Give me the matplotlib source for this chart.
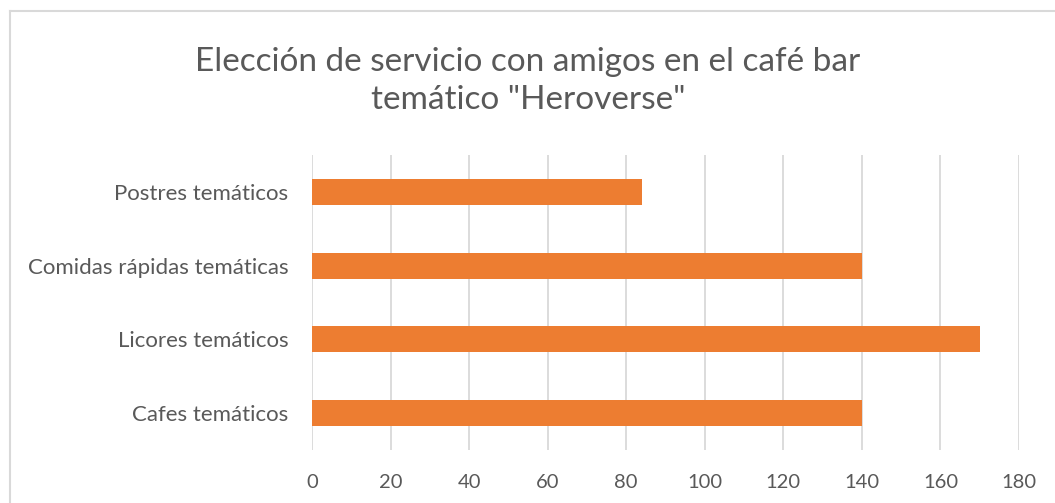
import matplotlib
matplotlib.use("Agg")
import matplotlib.pyplot as plt
from matplotlib.lines import Line2D

categories = ["Cafes temáticos", "Licores temáticos", "Comidas rápidas temáticas", "Postres temáticos"]
values = [140, 170, 140, 84]
xticks = [0, 20, 40, 60, 80, 100, 120, 140, 160, 180]
title = 'Elección de servicio con amigos en el café bar\ntemático "Heroverse"'

plt.rcParams['font.family'] = ['Lato', 'DejaVu Sans']
text_color = '#595959'
grid_color = '#D9D9D9'
bar_color = '#ED7D31'

fig = plt.figure(figsize=(10.55, 5.03), dpi=100)
ax = fig.add_axes([312/1055, 1-450/503, (1019-312)/1055, (450-155)/503])

ax.barh(range(len(categories)), values, height=0.35, color=bar_color, zorder=3)
ax.set_xlim(0, 180)
ax.set_ylim(-0.5, len(categories)-0.5)
ax.set_xticks(xticks)
ax.set_xticklabels([str(t) for t in xticks], fontsize=14.5, color=text_color)
ax.set_yticks(range(len(categories)))
ax.set_yticklabels(categories, fontsize=16, color=text_color)
ax.tick_params(axis='both', length=0)
ax.tick_params(axis='x', pad=17)
ax.tick_params(axis='y', pad=17)
ax.grid(axis='x', color=grid_color, linewidth=1.3, zorder=0)
for s in ax.spines.values():
    s.set_visible(False)

fig.text(528/1055, 1-81/503, title, ha='center', va='center', fontsize=24,
         color=text_color, linespacing=1.36)

# chart frame
fig.add_artist(Line2D([9.5/1055, 1.0], [1-10.5/503, 1-10.5/503], color=grid_color, lw=1.5, transform=fig.transFigure))
fig.add_artist(Line2D([9.5/1055, 9.5/1055], [1-10.5/503, 0], color=grid_color, lw=1.5, transform=fig.transFigure))

fig.savefig("out.png", dpi=100)
